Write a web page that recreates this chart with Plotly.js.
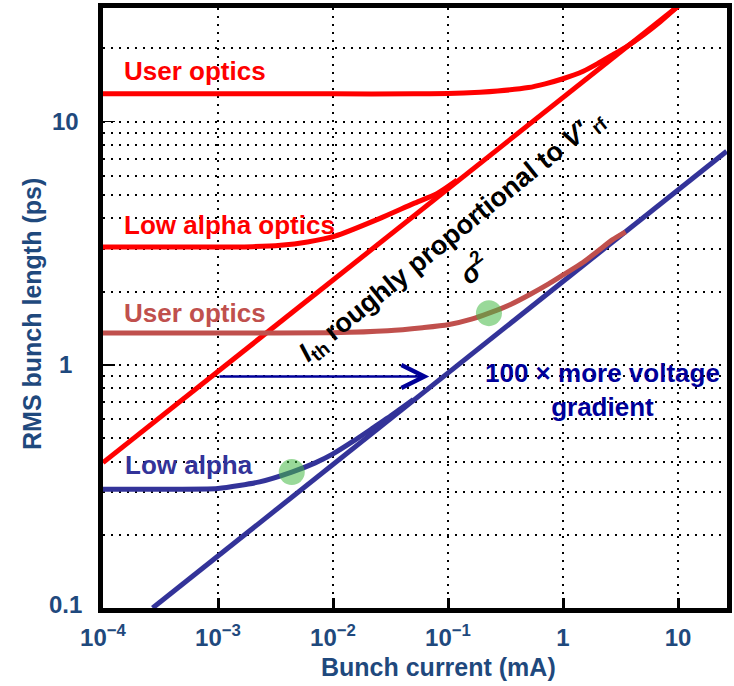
<!DOCTYPE html>
<html><head><meta charset="utf-8">
<script src="https://cdn.plot.ly/plotly-3.0.1.min.js"></script>
<style>html,body{margin:0;padding:0;background:#fff}#chart{width:734px;height:686px}</style>
</head><body><div id="chart"></div>
<script>
// ---- data (bunch current in mA, RMS bunch length in ps) ----
const thresholdX = [1e-4, 10];                 // red threshold line
const thresholdY = [0.396, 29.8];
const threshold100X = [2.7e-4, 26.5];          // blue threshold line (100x more voltage gradient)
const threshold100Y = [0.1, 7.55];

const userOpticsX = [1e-4, 1e-3, 1e-2, 0.05, 0.1, 0.19, 0.27, 0.5, 0.7, 1, 1.5, 2, 2.7, 3.5, 5, 7, 10];
const userOpticsY = [13.0, 13.0, 13.0, 13.0, 13.05, 13.2, 13.35, 13.8, 14.3, 15.0, 16.1, 17.3, 18.8, 20.2, 22.7, 25.7, 29.8];

const lowAlphaOpticsX = [1e-4, 1e-3, 2e-3, 3.5e-3, 6e-3, 0.0104, 0.0256, 0.05, 0.08, 0.12];
const lowAlphaOpticsY = [3.05, 3.05, 3.06, 3.1, 3.2, 3.38, 4.0, 4.6, 5.05, 5.75];

const userOptics100X = [1e-4, 1e-3, 0.01, 0.03, 0.06, 0.1, 0.16, 0.227, 0.35, 0.52, 0.75, 1.0, 1.5, 2.0, 2.7, 3.5];
const userOptics100Y = [1.35, 1.35, 1.355, 1.38, 1.42, 1.46, 1.54, 1.63, 1.77, 1.95, 2.15, 2.34, 2.64, 2.93, 3.27, 3.52];

const lowAlpha100X = [1e-4, 3e-4, 1e-3, 2.3e-3, 4.38e-3, 7e-3, 0.01, 0.015, 0.022, 0.03, 0.05];
const lowAlpha100Y = [0.308, 0.308, 0.31, 0.33, 0.362, 0.395, 0.43, 0.485, 0.548, 0.605, 0.72];

const markX = [4.38e-3, 0.227];
const markY = [0.362, 1.63];

const arrowFromX = 1e-3, arrowToX = 0.0687, arrowY = 0.895;

const xTickVals = [1e-4, 1e-3, 1e-2, 1e-1, 1, 10];
const xTickText = ['10<sup>−4</sup>', '10<sup>−3</sup>', '10<sup>−2</sup>', '10<sup>−1</sup>', '1', '10'];
const yTickVals = [0.1, 1, 10];
const yTickText = ['0.1', '1', '10'];
const yMinorVals = [0.2, 0.3, 0.4, 0.5, 0.6, 0.7, 0.8, 0.9, 2, 3, 4, 5, 6, 7, 8, 9, 20];

// ---- styles ----
const FONT = 'Liberation Sans, Arial, sans-serif';
const AXC = '#1F497D';
const RED = '#FF0000', BROWN = '#C0504D', BLUE = '#333399', NAVY = '#000099';
const W = 5;

function line(x, y, color) {
  return {x: x, y: y, type: 'scatter', mode: 'lines', line: {color: color, width: W, shape: 'spline', smoothing: 0.6}, hoverinfo: 'skip'};
}

const traces = [
  line(thresholdX, thresholdY, RED),
  line(userOpticsX, userOpticsY, RED),
  line(lowAlphaOpticsX, lowAlphaOpticsY, RED),
  line(threshold100X, threshold100Y, BLUE),
  line(lowAlpha100X, lowAlpha100Y, BLUE),
  line(userOptics100X, userOptics100Y, BROWN),
  {x: markX, y: markY, type: 'scatter', mode: 'markers',
   marker: {size: 26, color: 'rgba(70,185,70,0.55)', line: {width: 0}}, hoverinfo: 'skip'}
];

const lg = Math.log10;
function txt(text, x, y, color, size, extra) {
  return Object.assign({text: text, xref: 'paper', yref: 'paper', x: x, y: y, showarrow: false,
    xanchor: 'left', yanchor: 'middle', font: {family: FONT, size: size, color: color, weight: 'bold'}}, extra || {});
}

const annotations = [
  txt('User optics', 0.0304, 0.895, RED, 26),
  txt('Low alpha optics', 0.0304, 0.638, RED, 26),
  txt('User optics', 0.0304, 0.4917, BROWN, 26),
  txt('Low alpha', 0.032, 0.2383, BLUE, 26),
  txt('100 × more voltage<br>gradient', 0.8005, 0.3633, NAVY, 26, {xanchor: 'center', align: 'center'}),
  txt('<i>I</i><sub>th</sub> roughly proportional to <i>V′</i><sub> rf</sub>',
      0.5593, 0.6183, '#000000', 27, {xanchor: 'center', textangle: -39}),
  txt('<i>σ</i><sup>2</sup>', 0.593, 0.5667, '#000000', 27, {xanchor: 'center', textangle: -39}),
  {x: lg(arrowToX), y: lg(arrowY), ax: lg(arrowFromX), ay: lg(arrowY), xref: 'x', yref: 'y', axref: 'x', ayref: 'y',
   text: '', showarrow: true, arrowhead: 5, arrowsize: 1.8, arrowwidth: 2.5, arrowcolor: NAVY},
  txt('RMS bunch length (ps)', -0.1138, 0.49, AXC, 25, {xanchor: 'center', textangle: -90}),
  txt('Bunch current (mA)', 0.537, -0.098, AXC, 25, {xanchor: 'center'})
];
yTickVals.forEach(function (v, i) {
  annotations.push({text: yTickText[i], xref: 'paper', yref: 'y', x: -0.0593, y: lg(v), showarrow: false,
    xanchor: 'center', yanchor: 'middle', yshift: (v === 0.1 ? 4 : 0),
    font: {family: FONT, size: 24, color: AXC, weight: 'bold'}});
});

const layout = {
  width: 734, height: 686,
  margin: {l: 103, r: 7, t: 8, b: 78, pad: 0},
  paper_bgcolor: '#ffffff', plot_bgcolor: '#ffffff',
  showlegend: false,
  xaxis: {
    type: 'log', range: [-4, 1.426],
    tickmode: 'array', tickvals: xTickVals, ticktext: xTickText,
    ticks: 'inside', ticklen: 10, tickwidth: 3, tickcolor: '#000',
    showline: true, linewidth: 5, linecolor: '#000', mirror: true,
    showgrid: true, gridcolor: '#000', gridwidth: 2, griddash: '2px,6px',
    zeroline: false,
    tickfont: {family: FONT, size: 24, color: AXC, weight: 'bold'},
    ticklabelstandoff: 4
  },
  yaxis: {
    type: 'log', range: [-1, 1.467],
    tickmode: 'array', tickvals: yTickVals, ticktext: yTickText,
    showticklabels: false,
    ticks: 'inside', ticklen: 12, tickwidth: 1.5, tickcolor: '#000',
    showline: true, linewidth: 5, linecolor: '#000', mirror: true,
    showgrid: true, gridcolor: '#000', gridwidth: 2, griddash: '2px,6px',
    minor: {tickmode: 'array', tickvals: yMinorVals, ticks: '', showgrid: true,
            gridcolor: '#000', gridwidth: 2, griddash: '2px,6px'},
    zeroline: false
  },
  shapes: [
    {type: 'path', xref: 'paper', yref: 'paper', layer: 'between',
     path: 'M 0.343 0.302 L 0.2596 0.4133 L 0.7917 0.8883 L 0.8814 0.7767 Z',
     fillcolor: '#ffffff', line: {width: 0}}
  ],
  annotations: annotations
};

Plotly.newPlot('chart', traces, layout, {staticPlot: true, displayModeBar: false});
</script></body></html>
